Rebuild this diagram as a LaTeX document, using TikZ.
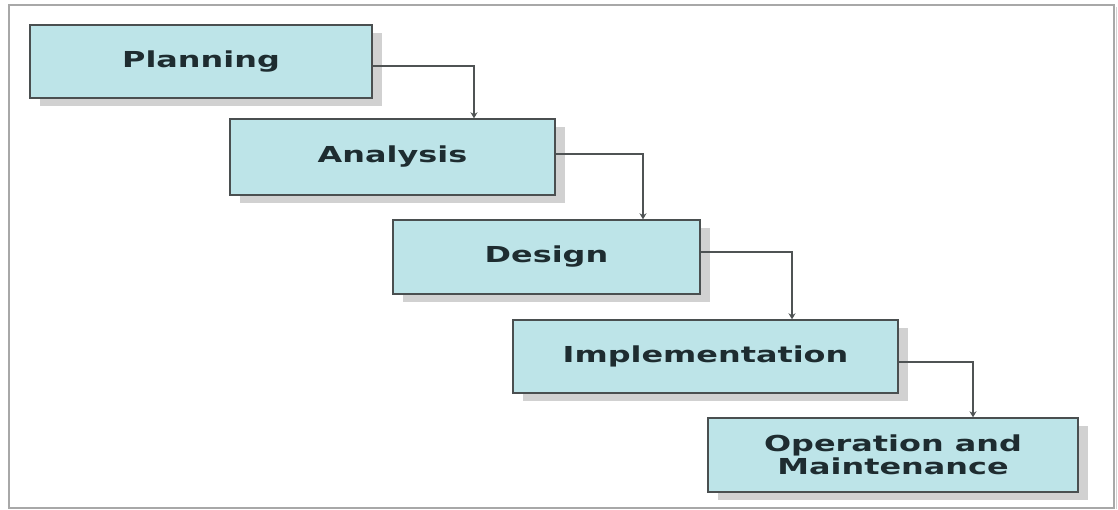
\documentclass[tikz,border=0pt]{standalone}
\usepackage{fontspec}
\newfontfamily\boxfont{DejaVu Sans}[FakeStretch=1.45]
\usetikzlibrary{arrows.meta,shadows}
\definecolor{boxfill}{HTML}{BDE4E8}
\definecolor{boxline}{HTML}{4A4F50}
\definecolor{txt}{HTML}{1E2C30}
\definecolor{conn}{HTML}{4F5354}
\definecolor{frame}{HTML}{A8A8A8}
\tikzset{
  stage/.style={draw=boxline, line width=1.4pt, fill=boxfill, inner sep=0pt,
    align=center, text=txt,
    font=\boxfont\bfseries\fontsize{22}{23.5}\selectfont,
    drop shadow={shadow xshift=10pt, shadow yshift=-8pt, fill=gray!45, opacity=0.8}},
  link/.style={draw=conn, line width=1.3pt, -{Stealth[length=6pt,width=7pt]}}
}
\begin{document}
\begin{tikzpicture}[x=1pt,y=-1pt]
\useasboundingbox (0,0) rectangle (1118,510);
\fill[white] (0,0) rectangle (1118,510);
\draw[frame, line width=1.5pt] (9,5) rectangle (1114,508);
\draw[gray!35, line width=1pt] (1116,7) -- (1116,509);
\node[stage, minimum width=342pt, minimum height=73pt] (P) at (201,61.5) {Planning};
\node[stage, minimum width=325pt, minimum height=76pt] (A) at (392.5,157) {Analysis};
\node[stage, minimum width=307pt, minimum height=74pt] (D) at (546.5,257) {Design};
\node[stage, minimum width=385pt, minimum height=73pt] (I) at (705.5,356.5) {Implementation};
\node[stage, minimum width=370pt, minimum height=74pt] (O) at (893,455) {Operation and\\Maintenance};
\draw[link] ([yshift=-4.5pt]P.east) -| ([xshift=81.5pt]A.north);
\draw[link] ([yshift=3pt]A.east) -| ([xshift=96.5pt]D.north);
\draw[link] ([yshift=5pt]D.east) -| ([xshift=86.5pt]I.north);
\draw[link] ([yshift=-5.5pt]I.east) -| ([xshift=80pt]O.north);
\end{tikzpicture}
\end{document}
